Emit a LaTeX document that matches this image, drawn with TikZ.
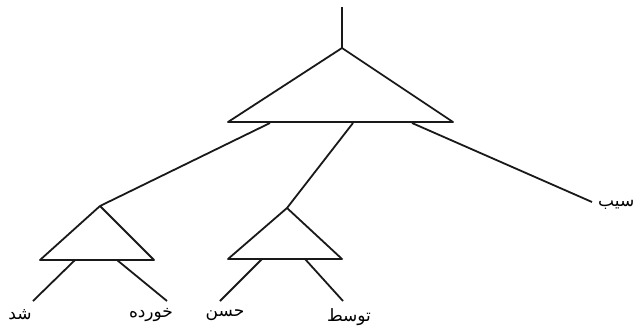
\documentclass[tikz,border=0pt]{standalone}
\usepackage{fontspec}
\newfontfamily\arabicfont[Script=Arabic]{DejaVu Sans}
\TeXXeTstate=1
\begin{document}
\begin{tikzpicture}[x=1pt,y=-1pt,
  ln/.style={line width=1.8pt, line join=round, black!90},
  lbl/.style={inner sep=0pt, font=\arabicfont\fontsize{17}{19}\selectfont}]
\useasboundingbox (0,0) rectangle (639,330);
% coordinates
\coordinate (top) at (342,7);
\coordinate (A) at (342,48);
\coordinate (AL) at (228,122);
\coordinate (AR) at (453,122);
\coordinate (a1) at (270,123);
\coordinate (a2) at (353,123);
\coordinate (a3) at (412,123);
\coordinate (B) at (100,206);
\coordinate (BL) at (40,260);
\coordinate (BR) at (154,260);
\coordinate (b1) at (75,260);
\coordinate (b2) at (117,260);
\coordinate (C) at (287,208);
\coordinate (CL) at (228,259);
\coordinate (CR) at (342,259);
\coordinate (c1) at (262,259);
\coordinate (c2) at (305,259);
\coordinate (e1) at (33,301);
\coordinate (e2) at (167,301);
\coordinate (e3) at (220,301);
\coordinate (e4) at (343,301);
\coordinate (e5) at (592,202);
% labels
\node[lbl] (l1) at (20,315) {\beginR شد\endR};
\node[lbl] (l2) at (151,315) {\beginR خورده\endR};
\node[lbl] (l3) at (225,315) {\beginR حسن\endR};
\node[lbl] (l4) at (349,317) {\beginR توسط\endR};
\node[lbl,anchor=west] (l5) at (598,205) {\beginR سیب\endR};
% tree
\draw[ln] (top) -- (A);
\draw[ln] (A) -- (AL) -- (AR) -- cycle;
\draw[ln] (B) -- (BL) -- (BR) -- cycle;
\draw[ln] (C) -- (CL) -- (CR) -- cycle;
\draw[ln] (a1) -- (B);
\draw[ln] (a2) -- (C);
\draw[ln] (a3) -- (e5);
\draw[ln] (b1) -- (e1);
\draw[ln] (b2) -- (e2);
\draw[ln] (c1) -- (e3);
\draw[ln] (c2) -- (e4);
\end{tikzpicture}
\end{document}
